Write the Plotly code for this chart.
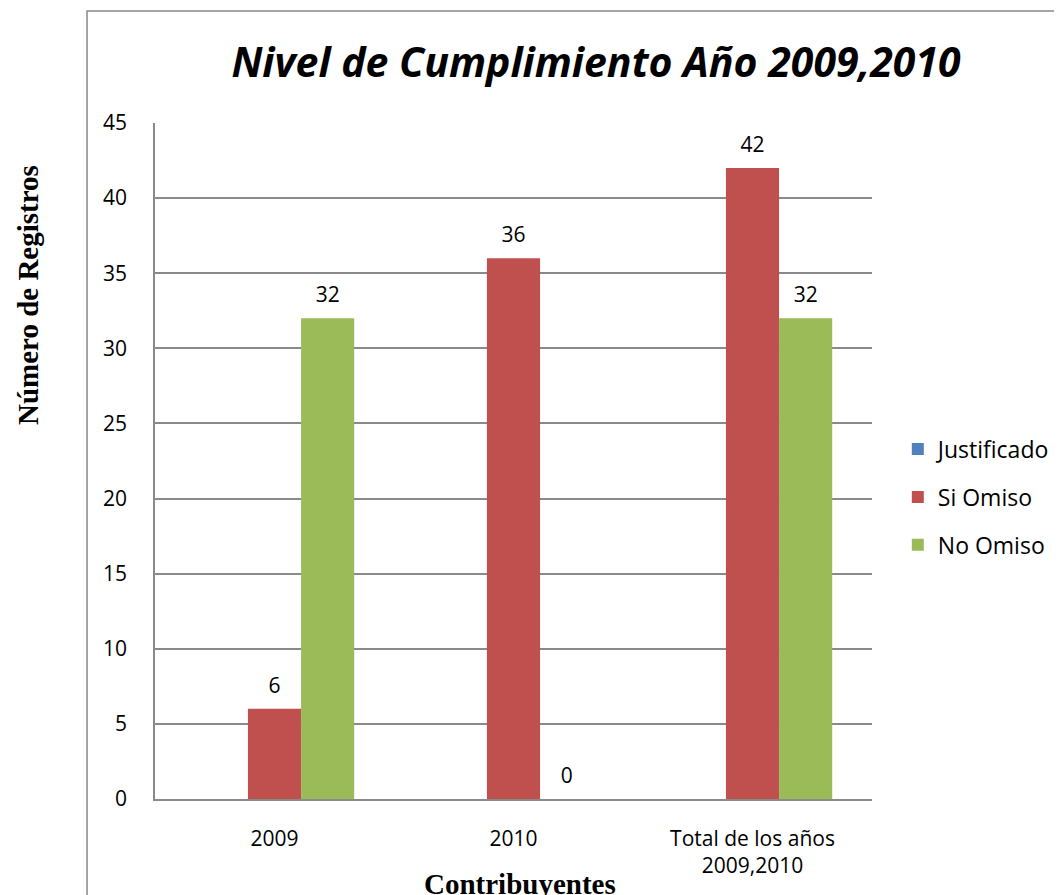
import plotly.graph_objects as go

categories = ["2009", "2010", "Total de los años<br>2009,2010"]
justificado = [None, None, None]
si_omiso = [6, 36, 42]
no_omiso = [32, 0, 32]
y_ticks = [0, 5, 10, 15, 20, 25, 30, 35, 40, 45]

FONT = "Open Sans"
GRID = "#8a8a8a"

fig = go.Figure()
series = [
    ("Justificado", justificado, "#4F81BD"),
    ("Si Omiso", si_omiso, "#C0504D"),
    ("No Omiso", no_omiso, "#9BBB59"),
]
for name, vals, col in series:
    fig.add_trace(go.Bar(
        x=categories, y=vals, name=name, legendgroup=name,
        marker=dict(color=col, line=dict(width=0)),
        offsetgroup=name,
    ))
for name, vals, col in series:
    fig.add_trace(go.Scatter(
        x=categories, y=vals, name=name, legendgroup=name,
        mode="markers+text", offsetgroup=name,
        marker=dict(size=16, opacity=0),
        text=[("" if v is None else str(v)) for v in vals],
        textposition="top center",
        textfont=dict(family=FONT, size=21, color="black"),
        showlegend=False, hoverinfo="skip", cliponaxis=False,
    ))

fig.update_layout(
    width=1062, height=895,
    margin=dict(l=147, r=198, t=115, b=104),
    paper_bgcolor="white", plot_bgcolor="white",
    barmode="group", bargap=0.333, bargroupgap=0,
    scattermode="group", scattergap=0.333,
    title=dict(
        text="<b><i>Nivel de Cumplimiento Año 2009,2010</i></b>",
        x=588 / 1062, xanchor="center", y=1 - 55 / 895, yanchor="middle",
        font=dict(family=FONT, size=41, color="black"),
    ),
    font=dict(family=FONT, size=21, color="black"),
    legend=dict(
        x=1.036, xanchor="left", y=0.4467, yanchor="middle",
        font=dict(family=FONT, size=23, color="black"),
        itemwidth=30, tracegroupgap=15, bgcolor="rgba(0,0,0,0)",
    ),
    showlegend=True,
)
fig.update_xaxes(
    showline=True, linecolor=GRID, linewidth=1.5,
    ticks="", tickfont=dict(family=FONT, size=21, color="black"),
    showgrid=False, ticklabelstandoff=20,
)
fig.update_yaxes(
    range=[0, 45], tickvals=y_ticks,
    showline=True, linecolor=GRID, linewidth=1.5,
    showgrid=True, gridcolor=GRID, gridwidth=1.5,
    zeroline=False, ticks="",
    tickfont=dict(family=FONT, size=21, color="black"),
    ticklabelstandoff=22,
)

# outer chart border (only left and top visible in the crop)
fig.add_shape(type="rect", xref="paper", yref="paper",
              x0=-0.0948, x1=1.35, y0=-0.3, y1=1.1657,
              line=dict(color=GRID, width=1.5), layer="below")

fig.add_annotation(
    text="<b>Número de Registros</b>", textangle=-90,
    xref="paper", yref="paper", x=-0.177, y=0.7456,
    showarrow=False, xanchor="center", yanchor="middle",
    font=dict(family="Liberation Serif", size=29, color="black"),
)
fig.add_annotation(
    text="<b>Contribuyentes</b>",
    xref="paper", yref="paper", x=0.509, y=-0.1257,
    showarrow=False, xanchor="center", yanchor="middle",
    font=dict(family="Liberation Serif", size=29, color="black"),
)

fig.write_html("out.html")
